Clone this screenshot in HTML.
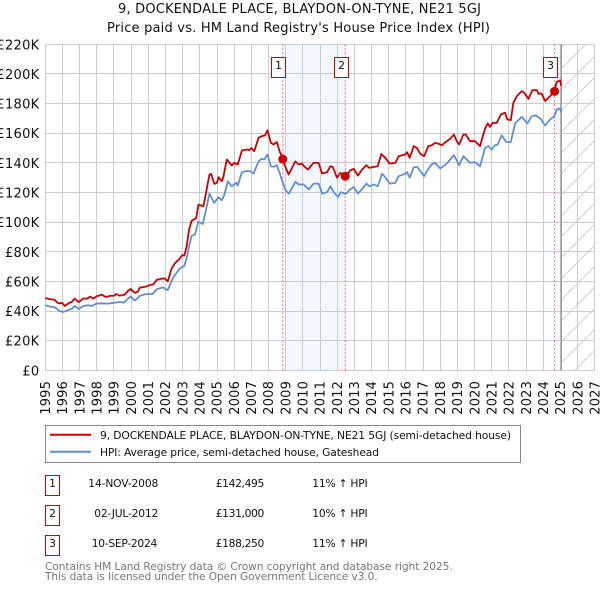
<!DOCTYPE html>
<html>
<head>
<meta charset="utf-8">
<title>9, DOCKENDALE PLACE price chart</title>
<style>
html,body{margin:0;padding:0;background:#fff;width:600px;height:590px;overflow:hidden}
svg{display:block}
text{font-family:"DejaVu Sans","Liberation Sans",sans-serif;fill:#111}
</style>
</head>
<body>
<svg id="chart" xmlns="http://www.w3.org/2000/svg" width="600" height="590" viewBox="0 0 600 590">
  <defs>
    <pattern id="hatch" width="21" height="21" patternUnits="userSpaceOnUse">
      <path d="M-2 23 L23 -2" stroke="#d0d0d0" stroke-width="1" fill="none"/>
    </pattern>
  </defs>
  <text x="118" y="13" font-size="13" textLength="363" lengthAdjust="spacing">9, DOCKENDALE PLACE, BLAYDON-ON-TYNE, NE21 5GJ</text>
  <text x="107" y="32" font-size="13" textLength="383" lengthAdjust="spacing">Price paid vs. HM Land Registry's House Price Index (HPI)</text>
  <g id="plot"></g>

  <g>
    <rect x="45.5" y="425.5" width="475" height="37" fill="#fff" stroke="#888" stroke-width="1"/>
    <line x1="50" x2="91" y1="434.7" y2="434.7" stroke="#cc0000" stroke-width="2"/>
    <text x="100" y="439" font-size="10.7" textLength="411" lengthAdjust="spacing">9, DOCKENDALE PLACE, BLAYDON-ON-TYNE, NE21 5GJ (semi-detached house)</text>
    <line x1="50" x2="91" y1="451.7" y2="451.7" stroke="#5f8fd0" stroke-width="2"/>
    <text x="100" y="456" font-size="10.7" textLength="279" lengthAdjust="spacing">HPI: Average price, semi-detached house, Gateshead</text>
  </g>

  <g font-size="10.7">
    <rect x="45.5" y="475.5" width="14" height="20" fill="#fff" stroke="#cc0000"/>
    <text x="52.5" y="487" text-anchor="middle">1</text>
    <text x="88.3" y="487" textLength="70" lengthAdjust="spacing">14-NOV-2008</text>
    <text x="215.7" y="487" textLength="48.6" lengthAdjust="spacing">£142,495</text>
    <text x="312.3" y="487" textLength="55.3" lengthAdjust="spacing">11% ↑ HPI</text>
    <rect x="45.5" y="505.5" width="14" height="20" fill="#fff" stroke="#cc0000"/>
    <text x="52.5" y="517" text-anchor="middle">2</text>
    <text x="94.3" y="517" textLength="64" lengthAdjust="spacing">02-JUL-2012</text>
    <text x="215.7" y="517" textLength="48.6" lengthAdjust="spacing">£131,000</text>
    <text x="312.3" y="517" textLength="55.3" lengthAdjust="spacing">10% ↑ HPI</text>
    <rect x="45.5" y="535.5" width="14" height="20" fill="#fff" stroke="#cc0000"/>
    <text x="52.5" y="547" text-anchor="middle">3</text>
    <text x="91.7" y="547" textLength="65.6" lengthAdjust="spacing">10-SEP-2024</text>
    <text x="215.7" y="547" textLength="48.6" lengthAdjust="spacing">£188,250</text>
    <text x="312.3" y="547" textLength="55.3" lengthAdjust="spacing">11% ↑ HPI</text>
  </g>

  <text x="45" y="570" font-size="10.6" textLength="407.7" lengthAdjust="spacing" style="fill:#777">Contains HM Land Registry data © Crown copyright and database right 2025.</text>
  <text x="45" y="580" font-size="10.6" textLength="332.7" lengthAdjust="spacing" style="fill:#777">This data is licensed under the Open Government Licence v3.0.</text>
</svg>
<script>
var yearTicks = [1995,1996,1997,1998,1999,2000,2001,2002,2003,2004,2005,2006,2007,2008,2009,2010,2011,2012,2013,2014,2015,2016,2017,2018,2019,2020,2021,2022,2023,2024,2025,2026,2027];
var valueTicks = [0,20,40,60,80,100,120,140,160,180,200,220];
var valueTickLabels = ['£0','£20K','£40K','£60K','£80K','£100K','£120K','£140K','£160K','£180K','£200K','£220K'];

var priceDates = [1995,1995.25,1995.52,1995.76,1995.99,1996.13,1996.38,1996.53,1996.71,1996.94,1997.21,1997.45,1997.6,1997.8,1997.99,1998.28,1998.53,1998.77,1999.02,1999.14,1999.31,1999.62,1999.83,1999.97,2000.22,2000.38,2000.51,2000.86,2001.1,2001.29,2001.49,2001.78,2001.97,2002.13,2002.36,2002.55,2002.79,2002.98,2003.1,2003.23,2003.37,2003.52,2003.79,2003.92,2004.21,2004.56,2004.66,2004.85,2004.99,2005.09,2005.28,2005.38,2005.57,2005.67,2005.86,2006,2006.21,2006.45,2006.74,2006.89,2006.99,2007.17,2007.42,2007.61,2007.8,2007.94,2008.14,2008.29,2008.49,2008.64,2008.84,2008.97,2009.17,2009.37,2009.56,2009.76,2009.95,2010.1,2010.3,2010.63,2010.92,2011.12,2011.41,2011.6,2011.74,2011.99,2012.18,2012.5,2012.77,2012.96,2013.21,2013.45,2013.7,2013.87,2014.13,2014.36,2014.57,2014.8,2015.06,2015.39,2015.58,2015.97,2016.07,2016.22,2016.46,2016.65,2016.83,2017.06,2017.31,2017.5,2017.7,2017.89,2018.09,2018.38,2018.57,2018.8,2018.96,2019.1,2019.35,2019.49,2019.74,2020.03,2020.32,2020.48,2020.63,2020.77,2020.9,2021.06,2021.29,2021.54,2021.78,2021.91,2022.11,2022.26,2022.46,2022.75,2022.89,2023.14,2023.37,2023.63,2023.72,2023.91,2024.11,2024.4,2024.65,2024.79,2024.98,2025.05];
var priceValues = [48.8,48,47.7,45.2,45.4,43.4,45.4,46,48.4,46,48.4,48.4,49.7,48.4,50,51,49.5,50.2,50.4,51.5,50.4,51,53.8,54.9,52.2,53,55.8,56.5,57.6,58,61,61.9,61.9,60,68.8,72.2,74.9,77.8,77.4,83.5,94.7,100.8,102.8,111.8,110.7,132,132.5,125.8,126.5,130.3,127.6,131,142.2,141,138.2,140,138.9,148.3,149,148.6,150,147.9,156.9,158,158.5,162,153.5,152.4,154,147.9,142.7,137.7,132.1,136.6,141,138.9,139.5,137.3,135.5,140,140,132.8,133.7,137.7,137.3,129.9,133.2,131,135,136,131.4,135.5,138.4,136.6,137.3,137.7,146,143.4,139.5,140,144.5,145.6,147.2,143.4,151.3,150,146.3,144.5,151.3,151.9,153.5,153,151.9,154.6,156.2,159.1,154.6,152.4,159.1,159.1,154.6,154.6,151.3,158,163.6,166.6,164.3,167,167,172.7,173.8,169.3,168.8,180.5,185,188.4,187.3,183.2,189.1,189.1,186.6,186.8,181.7,185,188.9,194.7,195.6,192];

var hpiDates = [1995,1995.27,1995.56,1995.82,1996.05,1996.34,1996.53,1996.71,1996.94,1997.21,1997.5,1997.7,1997.99,1998.28,1998.67,1999.06,1999.31,1999.58,1999.83,1999.97,2000.22,2000.51,2000.81,2001.04,2001.25,2001.49,2001.87,2002,2002.13,2002.26,2002.46,2002.65,2002.84,2003.1,2003.23,2003.37,2003.52,2003.72,2003.91,2004.17,2004.36,2004.56,2004.83,2005.09,2005.28,2005.42,2005.63,2005.86,2006.12,2006.21,2006.45,2006.7,2006.93,2007.13,2007.42,2007.61,2007.75,2007.94,2008.14,2008.29,2008.49,2008.68,2008.87,2009.03,2009.19,2009.37,2009.56,2009.76,2010.05,2010.34,2010.63,2010.92,2011.12,2011.41,2011.6,2011.8,2012.05,2012.22,2012.5,2012.77,2012.96,2013.21,2013.45,2013.7,2013.87,2014.13,2014.36,2014.61,2014.8,2015.06,2015.39,2015.58,2015.97,2016.07,2016.22,2016.46,2016.65,2016.85,2017.06,2017.31,2017.5,2017.7,2018,2018.38,2018.8,2019.1,2019.35,2019.74,2020.03,2020.32,2020.61,2020.8,2021,2021.2,2021.35,2021.58,2021.84,2022.11,2022.36,2022.75,2023.08,2023.33,2023.58,2023.85,2024.11,2024.4,2024.65,2024.79,2024.98,2025.05];
var hpiValues = [43.9,43,42.5,40,39.4,40.7,41.4,43.4,41.4,43.4,43.9,43.4,45,45.2,45,45.7,46.1,45.7,48.6,49.7,47,50.2,51.3,51.5,51.5,54.7,56,54.7,54.2,57.6,62.8,65.9,68.8,70.6,75.6,83.5,90.7,91.8,100.3,98.8,108.2,119.3,113,116.8,114.8,118.2,127.6,124.2,126.5,124.7,133.7,134.4,134.4,132.8,141,142.7,142.3,145.6,137.7,137.3,138.4,132,125.4,120.9,119.3,123.1,127.2,125.4,125.4,122.1,126,126,119.3,120.2,124.2,120.2,117,120.2,119,122.3,123.6,119.3,122.3,126,124.2,125.4,124.2,132.6,130.3,126,126.5,131,132.6,133.7,130,137,137.3,134.4,131,136,138.9,140,136.2,139.5,145.2,138.4,144.5,140,140.5,137.7,150,151.3,149,152,152.4,158.5,154,154,166.6,171,166.6,171.5,172,169.7,165.2,169.3,171.5,176,176.7,173.8];

var saleDates = [2008.83,2012.47,2024.66];
var saleValues = [142.495,131,188.25];
var saleLabels = ['1','2','3'];
var dataEndYear = 2025.05;

var NS = 'http://www.w3.org/2000/svg';
var plot = document.getElementById('plot');
function xScale(year){ return 45.3 + (year - 1995) * 17.17; }
function yScale(val){ return 370.3 - val * 1.4818; }
function crisp(p){ return Math.floor(p) + 0.5; }
function make(tag, attrs, parent){
  var el = document.createElementNS(NS, tag);
  for (var k in attrs) el.setAttribute(k, attrs[k]);
  (parent || plot).appendChild(el);
  return el;
}
function linePath(dates, values){
  return dates.map(function(d, i){
    return (i ? 'L' : 'M') + xScale(d).toFixed(2) + ' ' + yScale(values[i]).toFixed(2);
  }).join(' ');
}

var top220 = yScale(220), base0 = yScale(0);

var band1 = make('rect', {x: xScale(saleDates[0]), y: top220, width: xScale(saleDates[1]) - xScale(saleDates[0]), height: base0 - top220, fill: '#f3f7ff'});


var band2 = make('rect', {x: xScale(saleDates[2]), y: top220, width: xScale(dataEndYear) - xScale(saleDates[2]), height: base0 - top220, fill: '#f3f7ff'});



var hatchRect = make('rect', {x: xScale(dataEndYear), y: top220, width: xScale(2027) - xScale(dataEndYear), height: base0 - top220, fill: 'url(#hatch)'});



valueTicks.forEach(function(v, i){
  var y = crisp(yScale(v));
  var g = make('line', {x1: 45, x2: 595, y1: y, y2: y, stroke: '#cccccc', 'stroke-width': 1});
  
  
  var t = make('text', {x: 39.5, y: yScale(v) + 5, 'font-size': 13, 'text-anchor': 'end', 'letter-spacing': 0.3});
  
  
  t.textContent = valueTickLabels[i];
});

yearTicks.forEach(function(yr){
  var x = crisp(xScale(yr));
  var g = make('line', {x1: x, x2: x, y1: crisp(top220), y2: crisp(base0), stroke: '#cccccc', 'stroke-width': 1});
  
  
  var bx = xScale(yr) + 4.7;
  var t = make('text', {x: bx, y: 381, 'font-size': 13, 'text-anchor': 'end', 'letter-spacing': 0.15, transform: 'rotate(-90 ' + bx + ' 381)'});
  
  
  t.textContent = yr;
});

var endX = xScale(dataEndYear);
var endLine = make('line', {x1: endX, x2: endX, y1: top220, y2: base0, stroke: '#999999', 'stroke-width': 1.4});



saleDates.forEach(function(d){
  var x = xScale(d);
  var v = make('line', {x1: x, x2: x, y1: top220, y2: base0, stroke: '#ff6b7d', 'stroke-width': 1, 'stroke-dasharray': '2 2'});
  
  
});

var hpiLine = make('path', {d: linePath(hpiDates, hpiValues), fill: 'none', stroke: '#5f8fd0', 'stroke-width': 1.8, 'stroke-linejoin': 'round'});



var priceLine = make('path', {d: linePath(priceDates, priceValues), fill: 'none', stroke: '#cc0000', 'stroke-width': 1.8, 'stroke-linejoin': 'round'});



saleDates.forEach(function(d, i){
  var x = xScale(d);
  var c = make('circle', {cx: x, cy: yScale(saleValues[i]), r: 4.5, fill: '#cc0000'});
  
  
  var bx = Math.floor(x) - 10.5;
  var b = make('rect', {x: bx, y: 57.5, width: 14, height: 20, fill: '#fff', stroke: '#cc0000', 'stroke-width': 1});
  
  
  var t = make('text', {x: bx + 7, y: 69, 'font-size': 11, 'text-anchor': 'middle'});
  
  
  t.textContent = saleLabels[i];
});
</script>
</body>
</html>
